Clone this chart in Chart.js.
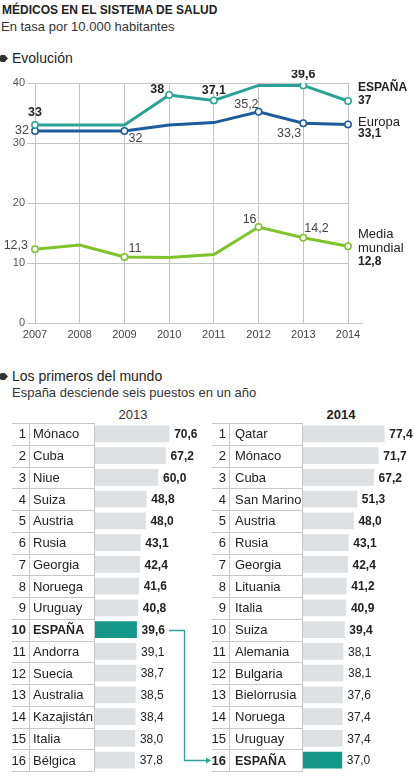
<!DOCTYPE html>
<html>
<head>
<meta charset="utf-8">
<script src="https://cdn.jsdelivr.net/npm/chart.js@4"></script>
<style>
  body { margin: 0; width: 414px; height: 778px; background: #fff; position: relative; overflow: hidden;
         font-family: 'Liberation Sans', Arial, sans-serif; color: #222; }
  .t { position: absolute; white-space: nowrap; line-height: 16px; }
  .bullet { position: absolute; left: 0; width: 8px; height: 7px; background: #333;
            clip-path: polygon(0 15%, 15% 0, 60% 0, 100% 50%, 60% 100%, 15% 100%, 0 85%); }
  .box { position: absolute; }
</style>
</head>
<body>

<div class="t" style="left:2px;top:2px;font-size:12px;font-weight:bold;color:#222">MÉDICOS EN EL SISTEMA DE SALUD</div>
<div class="t" style="left:1px;top:19px;font-size:13px;color:#333">En tasa por 10.000 habitantes</div>

<div class="bullet" style="top:55px"></div>
<div class="t" style="left:12px;top:50px;font-size:14px;color:#222">Evolución</div>

<div class="box" style="left:0;top:70px;width:414px;height:275px"><canvas id="lineChart"></canvas></div>

<div class="bullet" style="top:373px"></div>
<div class="t" style="left:12px;top:368px;font-size:14px;color:#222">Los primeros del mundo</div>
<div class="t" style="left:12px;top:385px;font-size:13px;color:#333">España desciende seis puestos en un año</div>

<div class="t" style="left:103px;top:407px;width:60px;text-align:center;font-size:13px;color:#333">2013</div>
<div class="t" style="left:311px;top:407px;width:60px;text-align:center;font-size:13px;font-weight:bold;color:#222">2014</div>

<div class="box" style="left:0;top:421px;width:212px;height:351px"><canvas id="table2013"></canvas></div>
<div class="box" style="left:208px;top:421px;width:206px;height:351px"><canvas id="table2014"></canvas></div>

<script>
// EVOLUCIÓN (tasa por 10.000 habitantes)
const years = ['2007', '2008', '2009', '2010', '2011', '2012', '2013', '2014'];
const espana = [33, 33, 33, 38, 37.1, 39.6, 39.6, 37];
const europa = [32, 32, 32, 33, 33.4, 35.2, 33.3, 33.1];
const mediaMundial = [12.3, 13, 11, 10.9, 11.4, 16, 14.2, 12.8];
const yTicks = [0, 10, 20, 30, 40];

// LOS PRIMEROS DEL MUNDO
const paises2013 = ['Mónaco', 'Cuba', 'Niue', 'Suiza', 'Austria', 'Rusia', 'Georgia', 'Noruega',
  'Uruguay', 'ESPAÑA', 'Andorra', 'Suecia', 'Australia', 'Kazajistán', 'Italia', 'Bélgica'];
const valores2013 = [70.6, 67.2, 60.0, 48.8, 48.0, 43.1, 42.4, 41.6, 40.8, 39.6, 39.1, 38.7, 38.5, 38.4, 38.0, 37.8];
const paises2014 = ['Qatar', 'Mónaco', 'Cuba', 'San Marino', 'Austria', 'Rusia', 'Georgia', 'Lituania',
  'Italia', 'Suiza', 'Alemania', 'Bulgaria', 'Bielorrusia', 'Noruega', 'Uruguay', 'ESPAÑA'];
const valores2014 = [77.4, 71.7, 67.2, 51.3, 48.0, 43.1, 42.4, 41.2, 40.9, 39.4, 38.1, 38.1, 37.6, 37.4, 37.4, 37.0];

const TEAL = '#2ba394';
const TEAL_BAR = '#159889';
const FONT = "'Liberation Sans', Arial, sans-serif";
const comma = v => String(v).replace('.', ',');

// label placement per point: [dx, dy, align]
const espanaLbl = { 0: [0, -12, 'center'], 3: [-5, -5, 'right'], 4: [0, -10, 'center'], 6: [0, -11, 'center'] };
const europaLbl = { 0: [-6, 0, 'right'], 2: [4, 8, 'left'], 5: [0, -7, 'right'], 6: [-2, 10, 'right'] };
const mediaLbl = { 0: [-7, -4, 'right'], 2: [4, -8, 'left'], 5: [-2, -7, 'right'], 6: [1, -9, 'left'] };

const lineLabels = {
  id: 'lineLabels',
  afterDatasetsDraw(chart) {
    const c = chart.ctx;
    c.save();
    c.textBaseline = 'middle';
    chart.data.datasets.forEach((ds, di) => {
      const pts = chart.getDatasetMeta(di).data;
      Object.keys(ds.lbl).forEach(k => {
        const [dx, dy, al] = ds.lbl[k];
        c.font = ds.lblFont;
        c.fillStyle = ds.lblColor;
        c.textAlign = al;
        c.fillText(comma(ds.data[k]), pts[k].x + dx, pts[k].y + dy);
      });
      const last = pts[pts.length - 1];
      c.textAlign = 'left';
      ds.endText.forEach(([txt, dy, font]) => {
        c.font = font;
        c.fillStyle = '#222';
        c.fillText(txt === null ? comma(ds.data[ds.data.length - 1]) : txt, last.x + 10, last.y + dy);
      });
    });
    // zero line runs a bit past the plot
    const y0 = Math.round(chart.scales.y.getPixelForValue(0)) + 0.5;
    c.strokeStyle = '#c4c4c4';
    c.lineWidth = 1;
    c.beginPath();
    c.moveTo(chart.chartArea.right, y0);
    c.lineTo(chart.chartArea.right + 15, y0);
    c.stroke();
    c.restore();
  }
};

function lineSet(data, color, lbl, bold, endText) {
  return {
    data, lbl, endText,
    borderColor: color,
    borderWidth: 3,
    tension: 0,
    pointBackgroundColor: '#fff',
    pointBorderColor: color,
    pointBorderWidth: 1.5,
    pointRadius: ctx => (ctx.dataIndex in lbl || ctx.dataIndex === data.length - 1) ? 3.2 : 0,
    lblFont: (bold ? 'bold ' : '') + '12.5px ' + FONT,
    lblColor: bold ? '#222' : '#444'
  };
}

new Chart(document.getElementById('lineChart'), {
  type: 'line',
  data: {
    labels: years,
    datasets: [
      lineSet(espana, TEAL, espanaLbl, true, [['ESPAÑA', -13, 'bold 12px ' + FONT], [null, 0, 'bold 12px ' + FONT]]),
      lineSet(europa, '#1d5c9b', europaLbl, false, [['Europa', -2, '13px ' + FONT], [null, 9, 'bold 12px ' + FONT]]),
      lineSet(mediaMundial, '#7dc32a', mediaLbl, false,
        [['Media', -12, '13px ' + FONT], ['mundial', 2, '13px ' + FONT], [null, 15.5, 'bold 12px ' + FONT]])
    ]
  },
  options: {
    responsive: true,
    maintainAspectRatio: false,
    animation: false,
    events: [],
    layout: { padding: { top: 13, right: 66, left: 0, bottom: 0 } },
    plugins: { legend: { display: false }, tooltip: { enabled: false } },
    scales: {
      x: {
        afterFit: s => { s.height = 22; },
        grid: { color: '#c4c4c4', drawTicks: false },
        border: { display: false },
        ticks: { padding: 5, color: '#444', font: { size: 11, family: FONT } }
      },
      y: {
        min: 0, max: 40,
        afterFit: s => { s.width = 35; },
        afterBuildTicks: s => { s.ticks = yTicks.map(v => ({ value: v })); },
        grid: { color: '#c4c4c4', tickLength: 8 },
        border: { display: false },
        ticks: { padding: 2, color: '#555', font: { size: 11, family: FONT } }
      }
    }
  },
  plugins: [lineLabels]
});

// ranking tables
const tablePlugin = {
  id: 'rankTable',
  afterDatasetsDraw(chart, args, o) {
    const c = chart.ctx, a = chart.chartArea, ys = chart.scales.y, xs = chart.scales.x;
    const names = chart.data.labels, vals = chart.data.datasets[0].data;
    const rowH = (a.bottom - a.top) / names.length;
    const xb = a.left - 0.5;
    c.save();
    c.strokeStyle = '#c8c8c8';
    c.lineWidth = 1;
    c.beginPath();
    for (let i = 0; i <= names.length; i++) {
      const yy = Math.round(a.top + i * rowH) + 0.5;
      c.moveTo(o.left, yy);
      c.lineTo(xb, yy);
    }
    c.moveTo(o.divider + 0.5, a.top);
    c.lineTo(o.divider + 0.5, a.bottom);
    c.moveTo(xb, a.top);
    c.lineTo(xb, a.bottom);
    c.stroke();

    c.textBaseline = 'middle';
    names.forEach((n, i) => {
      const y = ys.getPixelForValue(i) + 1;
      const esp = n === 'ESPAÑA';
      c.fillStyle = '#222';
      c.textAlign = 'right';
      c.font = (esp ? 'bold ' : '') + '13px ' + FONT;
      c.fillText(String(i + 1), o.rankRight, y);
      c.textAlign = 'left';
      c.font = esp ? 'bold 12.5px ' + FONT : '13px ' + FONT;
      c.fillText(n, o.nameLeft, y);
      c.font = (i < 10 ? 'bold ' : '') + '12px ' + FONT;
      c.fillText(vals[i].toFixed(1).replace('.', ','), xs.getPixelForValue(vals[i]) + 5, y);
    });

    if (o.arrowTo != null) {
      const i = names.indexOf('ESPAÑA');
      c.font = 'bold 12px ' + FONT;
      const txt = vals[i].toFixed(1).replace('.', ',');
      const x1 = xs.getPixelForValue(vals[i]) + 5 + c.measureText(txt).width + 4;
      const xm = Math.round(x1 + 15) + 0.5;
      const y1 = Math.round(ys.getPixelForValue(i)) + 0.5;
      const y2 = Math.round(ys.getPixelForValue(o.arrowTo)) + 0.5;
      const xe = chart.width - 1;
      c.strokeStyle = TEAL;
      c.fillStyle = TEAL;
      c.lineWidth = 1.3;
      c.beginPath();
      c.moveTo(x1, y1);
      c.lineTo(xm, y1);
      c.lineTo(xm, y2);
      c.lineTo(xe - 4, y2);
      c.stroke();
      c.beginPath();
      c.moveTo(xe, y2);
      c.lineTo(xe - 5, y2 - 3);
      c.lineTo(xe - 5, y2 + 3);
      c.closePath();
      c.fill();
    }
    c.restore();
  }
};

function makeTable(id, names, values, right, table) {
  new Chart(document.getElementById(id), {
    type: 'bar',
    data: {
      labels: names,
      datasets: [{
        data: values,
        backgroundColor: names.map(n => n === 'ESPAÑA' ? TEAL_BAR : '#dde1e4'),
        barThickness: 16
      }]
    },
    options: {
      indexAxis: 'y',
      responsive: true,
      maintainAspectRatio: false,
      animation: false,
      events: [],
      layout: { padding: { left: 95, right: right, top: 2, bottom: 1 } },
      scales: {
        x: { display: false, min: 0, max: 100 },
        y: { display: false }
      },
      plugins: { legend: { display: false }, tooltip: { enabled: false }, rankTable: table }
    },
    plugins: [tablePlugin]
  });
}

makeTable('table2013', paises2013, valores2013, 12,
  { left: 12, divider: 29, rankRight: 26, nameLeft: 33, arrowTo: paises2014.indexOf('ESPAÑA') });
makeTable('table2014', paises2014, valores2014, 6,
  { left: 4, divider: 21, rankRight: 18, nameLeft: 27, arrowTo: null });
</script>
</body>
</html>
